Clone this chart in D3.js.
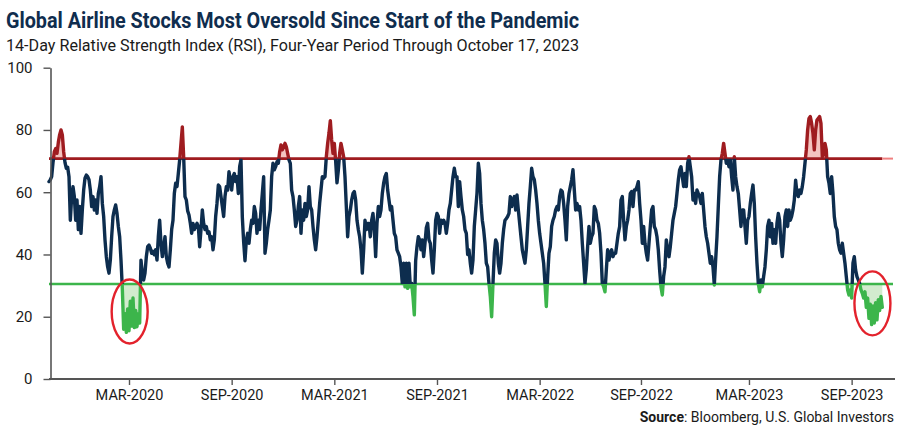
<!DOCTYPE html>
<html><head><meta charset="utf-8">
<script src="https://cdn.jsdelivr.net/npm/d3@7"></script>
<style>
body{margin:0;background:#fff;}
svg{display:block;font-family:Roboto,"Open Sans",sans-serif;}
</style>
</head><body>
<svg id="chart" width="900" height="434"></svg>
<script>
// ---- Data (14-day RSI, in chronological order) ----
const rsiOct2019 = [
63.4,64,65,69.5,73,74,72.5,76,78.5,80,
78.4,73,69.5,67.7,68,65,51,58.6,61.8,58.6,
51,57.5,48,55.4,46.8,54.3,60.7,64.5,65.5,65,
64,60.7,55.4,58.6,54.3,57.5,53.2,59.6,61.8,65,
56.4,52.2,44.7,39.3,36,34,38.2,45.7,52.2,54.3,
55.9,53.2,49,45.7,38.2,29,16,21,15,22.5,
15.5,25,17,26,16.5,22,16.8,21,18,38.2,
34,31.8,34,39.3,42.5,43,42,40.4,41,39.9,
41.5,38.2,45.7,51,43.6,39.3,42.5,45.7,39.3,37.2,
36,41.5,48,51,59.6,62.9,61.8,66,70.4,75.7,
81,71.4];
const rsiJul2020 = [
58.6,57.5,54,52.7,50,46.8,50,48,49,50,
49,42.5,48,54.3,50,48,49,46.8,47.3,44.7,
45.7,41.5,44.7,52.2,56.4,62.3,61.8,58.6,55.4,52.2,
58.6,61.8,60.7,66.6,64,60.7,65,66,63.4,65,
59.6,68.2,70.4,52,44,38,44.5,46.8,43.6,48,
51,50,55.4,53.2,46.8,51,48,54.3,59.6,65,
40.4,43.6,48,51,54.3,65,69.3,67.2,68.2,69.8,
69.3,73,75.2,73.6,74.6,75.7,74.6,72.5,70.4,69.3,
60.7,58.6,54.3,49,51,55.4,58.6,46.8,54.3,51,
56.4,52.2,54.3,61.8,55.4,54.3,49,44.7,41.5,45.7,
51,56.4,60.7,65,64.5];
const rsiFeb2021 = [
65,71.4,75.7,79,83,76.8,72.5,75.7,70,63,
67,72.5,75.7,73.6,71.4,65,55.4,45.7,52.2,54.3,
57.5,59.6,60.2,57.5,51,48,45.7,41.5,34,41.5,
51,48,50,50,45.7,51,53.2,48,39.3,50,
55.4,52.2,54.3,59.6,62.9,65,66,60.7,57.5,54.3,
55.4,51,46.8,45.7,41.5,40.4,39.3,36,30.7,37.2,
29.6,37.2,29.1,37.2,29.6,30.7,26.5,20.6,38,42.5,
45.7,44.7,41.5,44.7,39.3,43.6,48.6,50,44.7,43.6,
38.2,34,41.5,51,53.2,52.2,46.8,51,50,51,
50,46.8,50,54.3,56.4,60.7,65,67.7,65,65,
55.4,63.4,58.6,54.3,52.2];
const rsiDec2021 = [
48,46.8,40,41.5,37.2,34,38.2,49,54.3,59.6,
69.3,66,56.4,51,48,43.6,37.2,36,30.7,26.5,
20,30.7,40.4,44.7,43.6,37.2,34,37.2,43.6,48,
51,51.5,52.2,53.2,58.6,55.4,57.5,58.6,54.3,59.1,
54.3,50,45.7,41.5,39.3,37.2,41.5,49,56.4,61.8,
67.7,65,64,60.7,56.4,51,46.8,43.6,40.4,37.2,
30.7,23.3,32.9,40.4,42.5,49,51,52.2,54.3,55.4,
54.3,58.6,60.7,60.2,56.4,51,44.7,55.4,59.6,61.8,
64,67.2,60.7,54.3,56.4,54.3,55.4,51,43.6,37.2,
30.7,35.2,42.5,49,43.6,45.7,46.8,55.4,54.3,51,
50,46.8,40.4,30.7,29.6];
const rsiAug2022 = [
28,35,41.5,38.2,40.4,41.5,39.3,40.4,40.4,43.6,
46.8,49,57.5,58.6,51,44.7,49,51,54.3,59.6,
60.2,55.4,60.7,60.7,61.8,63.4,56.4,51,43.6,49,
43.6,40.4,38.2,43.6,49,54.3,55.4,49,48,45.7,
41.5,35,29.6,27,32.9,36,44.7,41.5,39.3,42.5,
46.8,51,53.2,55.4,59.6,63.9,67.2,68.2,65,61.8,
66,61.8,69.3,71.4,68.2,65,57.5,59.6,56.4,60.7,
59.6,58.6,56.4,59.6,54.3,49,45.7,43.6,40.4,37.2,
39.3,36,30.2,38.2,45.7,55.4,65,70.4,72.5,75.7,
72.5,69.3,70.4,68.2,70.4,65,60.7,71.4,65,61.8,
59.6,54.3,49,54.3,54.3];
const rsiMar2023 = [
49,43.6,51,52.2,56.4,59.6,62.3,56.4,45.7,37.2,
30.7,28,31.8,29.6,32.9,36,41.5,49,51,45.7,
50,43.6,48,43.6,50,53.2,51,43.6,39.3,44.7,
52.2,54.3,49,54.3,51,52.2,54.3,57.5,63.9,59.6,
58.6,60.7,59.6,61.8,65,69.3,73.6,80,83.7,84.3,
82.1,78.9,73.6,80,83.2,83.7,84.3,82.1,71.4,72,
75.7,73.6,65,62.9,59.6,65,59.6,52.2,49,48,
43.6,41.5,40.4,43.6,40.4,37.2,32.9,28.6,27,28.6,
26,37.2,39.3,35,32.9,31.8,30.7,28.6,27.5,26,
28,23,26,19.5,24,17.5,23.5,18,24.5,19,
25.5,22,26.5,23];

const rsi = [].concat(rsiOct2019, rsiJul2020, rsiFeb2021, rsiDec2021, rsiAug2022, rsiMar2023);

const overbought = 70.8;
const oversold = 30.5;
const yTicks = [0, 20, 40, 60, 80, 100];
const xTickIndex = [60, 137, 214, 291, 368, 444, 525, 602];
const xTickLabels = ["MAR-2020","SEP-2020","MAR-2021","SEP-2021","MAR-2022","SEP-2022","MAR-2023","SEP-2023"];
const highlights = [{index: 60.5, value: 21.7}, {index: 617.6, value: 24.3}];

const titleText = "Global Airline Stocks Most Oversold Since Start of the Pandemic";
const subtitleText = "14-Day Relative Strength Index (RSI), Four-Year Period Through October 17, 2023";

// ---- Layout ----
const W = 900, H = 434;
const plotLeft = 49, dataRight = 882.3, axisRight = 895;
const plotTop = 67.7, plotBottom = 379;

const svg = d3.select("#chart");
const x = d3.scaleLinear().domain([0, rsi.length - 1]).range([plotLeft, dataRight]);
const y = d3.scaleLinear().domain([0, 100]).range([plotBottom, plotTop]);

// Title
svg.append("text").attr("x", 6).attr("y", 28)
  .attr("font-size", 21.5).attr("font-weight", 700).attr("fill", "#0f2d4e")
  .attr("textLength", 573).attr("lengthAdjust", "spacingAndGlyphs")
  .text(titleText);
svg.append("text").attr("x", 6).attr("y", 51)
  .attr("font-size", 17).attr("fill", "#1a1a1a")
  .attr("textLength", 573).attr("lengthAdjust", "spacingAndGlyphs")
  .text(subtitleText);

// Clip regions
const defs = svg.append("defs");
defs.append("clipPath").attr("id", "above").append("rect")
  .attr("x", 0).attr("y", 0).attr("width", W).attr("height", y(overbought));
defs.append("clipPath").attr("id", "middle").append("rect")
  .attr("x", 0).attr("y", y(overbought)).attr("width", W).attr("height", y(oversold) - y(overbought));
defs.append("clipPath").attr("id", "below").append("rect")
  .attr("x", 0).attr("y", y(oversold)).attr("width", W).attr("height", H - y(oversold));

// Areas
const areaHigh = d3.area().x((d, i) => x(i)).y0(y(overbought)).y1(d => y(d));
const areaLow = d3.area().x((d, i) => x(i)).y0(y(oversold)).y1(d => y(d));
svg.append("path").datum(rsi).attr("d", areaHigh).attr("fill", "#f4c4c0").attr("clip-path", "url(#above)");
svg.append("path").datum(rsi).attr("d", areaLow).attr("fill", "#d2ebce").attr("clip-path", "url(#below)");

// Threshold lines
svg.append("line").attr("x1", x(0)).attr("x2", x(rsi.length - 1))
  .attr("y1", y(overbought)).attr("y2", y(overbought))
  .attr("stroke", "#9f1c20").attr("stroke-width", 2.6);
svg.append("line").attr("x1", x(rsi.length - 1)).attr("x2", axisRight - 2)
  .attr("y1", y(overbought)).attr("y2", y(overbought))
  .attr("stroke", "#f08080").attr("stroke-width", 2);
svg.append("line").attr("x1", x(0)).attr("x2", axisRight - 2)
  .attr("y1", y(oversold)).attr("y2", y(oversold))
  .attr("stroke", "#3cb54b").attr("stroke-width", 2.6);

// RSI line, coloured by zone
const line = d3.line().x((d, i) => x(i)).y(d => y(d));
const zones = [["middle", "#0d2d4e"], ["above", "#9f1c20"], ["below", "#3cb54b"]];
zones.forEach(([clip, color]) => {
  svg.append("path").datum(rsi).attr("d", line)
    .attr("fill", "none").attr("stroke", color).attr("stroke-width", 3.4)
    .attr("stroke-linejoin", "round").attr("stroke-linecap", "round")
    .attr("clip-path", `url(#${clip})`);
});

// Axes
const yAxis = svg.append("g").attr("transform", `translate(${plotLeft + 1.5},0)`)
  .call(d3.axisLeft(y).tickValues(yTicks).tickSize(7).tickSizeOuter(0).tickPadding(11));
yAxis.select(".domain").attr("stroke", "#555").attr("stroke-width", 1.6);
yAxis.selectAll(".tick line").attr("stroke", "#555").attr("stroke-width", 1.4);
yAxis.selectAll(".tick text").attr("font-size", 15).attr("fill", "#1a1a1a")
  .attr("font-family", "Roboto, sans-serif");

const xAxis = svg.append("g").attr("transform", `translate(0,${plotBottom})`)
  .call(d3.axisBottom(x).tickValues(xTickIndex).tickFormat((d, i) => xTickLabels[i])
    .tickSize(6).tickSizeOuter(0).tickPadding(5));
xAxis.select(".domain").remove();
xAxis.append("line").attr("x1", plotLeft).attr("x2", axisRight).attr("y1", 0).attr("y2", 0)
  .attr("stroke", "#555").attr("stroke-width", 1.8);
xAxis.selectAll(".tick line").attr("stroke", "#555").attr("stroke-width", 1.4);
xAxis.selectAll(".tick text").attr("font-size", 14.5).attr("fill", "#1a1a1a")
  .attr("font-family", "Roboto, sans-serif");

// Highlight ellipses
svg.selectAll("ellipse.hl").data(highlights).join("ellipse")
  .attr("class", "hl")
  .attr("cx", d => x(d.index)).attr("cy", d => y(d.value))
  .attr("rx", 18).attr("ry", 32)
  .attr("fill", "none").attr("stroke", "#e3222c").attr("stroke-width", 2.4);

// Source
const src = svg.append("text").attr("x", 894).attr("y", 422)
  .attr("text-anchor", "end").attr("font-size", 14).attr("fill", "#1a1a1a");
src.append("tspan").attr("font-weight", 700).text("Source");
src.append("tspan").text(": Bloomberg, U.S. Global Investors");
</script>
</body></html>
